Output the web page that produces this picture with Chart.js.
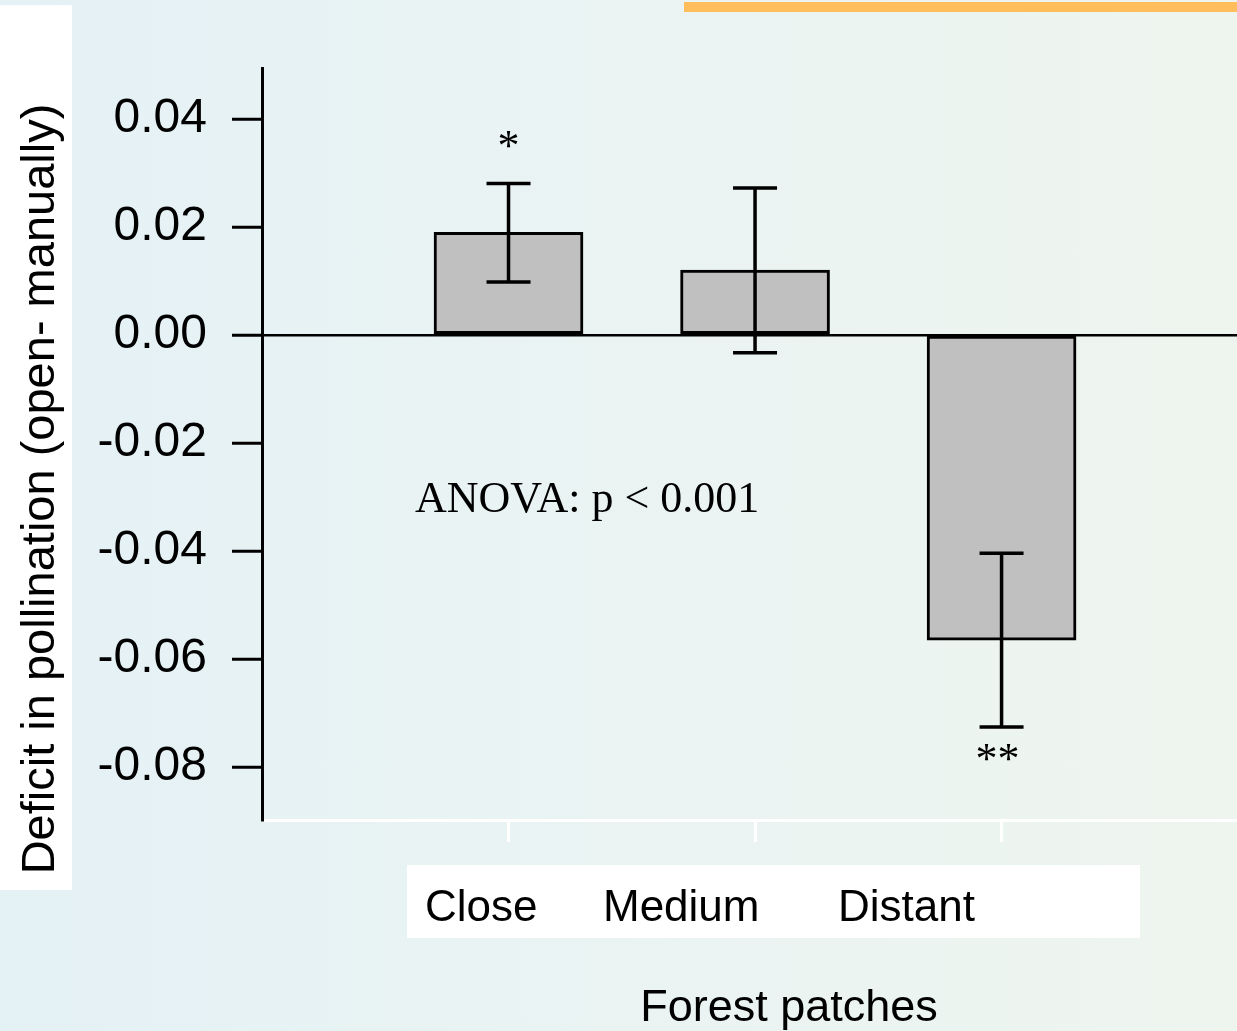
<!DOCTYPE html>
<html>
<head>
<meta charset="utf-8">
<title>Deficit in pollination</title>
<script src="https://cdn.jsdelivr.net/npm/chart.js@4/dist/chart.umd.min.js"></script>
<style>
  html, body { margin: 0; padding: 0; }
  body {
    width: 1237px;
    height: 1031px;
    overflow: hidden;
    background: linear-gradient(90deg, #e4f1f5 0%, #e9f3f3 40%, #eef5ef 100%);
  }
  canvas { display: block; }
</style>
</head>
<body>
<canvas id="chart" width="1237" height="1031"></canvas>
<script>
// ===============================
// DATA
// ===============================
const categories = ["Close", "Medium", "Distant"];
const deficit = [0.019, 0.012, -0.0565];
const errHigh = [0.028, 0.0272, -0.0404];
const errLow = [0.0098, -0.0033, -0.0726];
const stars = ["*", "", "**"];
const yTicks = [0.04, 0.02, 0.0, -0.02, -0.04, -0.06, -0.08];
const yTitle = "Deficit in pollination (open- manually)";
const xTitle = "Forest patches";
const anovaText = "ANOVA: p < 0.001";

// ===============================
// PLUGINS
// ===============================
const backdrop = {
  id: "backdrop",
  beforeDraw(chart) {
    const ctx = chart.ctx;
    ctx.save();
    ctx.fillStyle = "#ffbd5c";
    ctx.fillRect(684, 2, 553, 10);
    ctx.fillStyle = "#ffffff";
    ctx.fillRect(0, 5, 72, 885);
    ctx.fillRect(407, 865, 733, 73);
    ctx.restore();
  },
};

const errorBars = {
  id: "errorBars",
  afterDatasetsDraw(chart) {
    const ctx = chart.ctx;
    const x = chart.scales.x;
    const y = chart.scales.y;
    ctx.save();
    ctx.strokeStyle = "#000";
    ctx.lineWidth = 3.5;
    categories.forEach((c, i) => {
      const px = x.getPixelForValue(i + 1);
      const hi = y.getPixelForValue(errHigh[i]);
      const lo = y.getPixelForValue(errLow[i]);
      ctx.beginPath();
      ctx.moveTo(px, hi);
      ctx.lineTo(px, lo);
      ctx.moveTo(px - 22, hi);
      ctx.lineTo(px + 22, hi);
      ctx.moveTo(px - 22, lo);
      ctx.lineTo(px + 22, lo);
      ctx.stroke();
    });
    ctx.restore();
  },
};

const labels = {
  id: "labels",
  afterDraw(chart) {
    const ctx = chart.ctx;
    const x = chart.scales.x;
    const y = chart.scales.y;
    ctx.save();
    ctx.fillStyle = "#000";

    // significance stars
    ctx.font = "44px 'Liberation Serif', 'Times New Roman', serif";
    ctx.textAlign = "center";
    ctx.textBaseline = "middle";
    stars.forEach((s, i) => {
      if (!s) return;
      const px = x.getPixelForValue(i + 1);
      const py = deficit[i] >= 0
        ? y.getPixelForValue(errHigh[i]) - 35
        : y.getPixelForValue(errLow[i]) + 34;
      ctx.fillText(s, px - (s.length > 1 ? 4 : 0), py);
    });

    // anova note
    ctx.font = "44px 'Liberation Serif', 'Times New Roman', serif";
    ctx.textAlign = "left";
    ctx.textBaseline = "alphabetic";
    ctx.fillText(anovaText, 415, 512);

    // category labels in the white box
    ctx.font = "44px 'Liberation Sans', Arial, sans-serif";
    const catX = [425, 603, 838];
    categories.forEach((c, i) => ctx.fillText(c, catX[i], 921));

    // x title
    ctx.font = "45px 'Liberation Sans', Arial, sans-serif";
    ctx.textAlign = "center";
    ctx.fillText(xTitle, 789, 1021);

    // y title
    ctx.translate(54, 489);
    ctx.rotate(-Math.PI / 2);
    ctx.font = "47px 'Liberation Sans', Arial, sans-serif";
    ctx.textAlign = "center";
    ctx.fillText(yTitle, 0, 0);
    ctx.restore();
  },
};

// ===============================
// CHART
// ===============================
new Chart(document.getElementById("chart"), {
  type: "bar",
  data: {
    datasets: [
      {
        data: categories.map((c, i) => ({ x: i + 1, y: deficit[i] })),
        backgroundColor: "#c0c0c0",
        borderColor: "#000",
        borderWidth: 3,
        borderSkipped: false,
        barThickness: 149,
      },
    ],
  },
  options: {
    responsive: false,
    animation: false,
    layout: { padding: { top: 68, right: 0, left: 0, bottom: 0 } },
    plugins: {
      legend: { display: false },
      tooltip: { enabled: false },
    },
    scales: {
      x: {
        type: "linear",
        offset: false,
        min: 0,
        max: 3.955,
        afterBuildTicks: (s) => {
          s.ticks = categories.map((c, i) => ({ value: i + 1 }));
        },
        afterFit: (s) => {
          s.height = 211;
        },
        ticks: { display: false },
        grid: {
          offset: false,
          drawOnChartArea: false,
          tickLength: 22,
          tickColor: "#ffffff",
          tickWidth: 3,
        },
        border: { color: "#ffffff", width: 3 },
      },
      y: {
        min: -0.0898,
        max: 0.0494,
        afterBuildTicks: (s) => {
          s.ticks = yTicks.map((v) => ({ value: v }));
        },
        afterFit: (s) => {
          s.width = 262;
        },
        ticks: {
          color: "#000",
          padding: 25,
          font: { family: "'Liberation Sans', Arial, sans-serif", size: 48 },
          callback: (v) => Number(v).toFixed(2),
        },
        grid: {
          color: (ctx) => (ctx.tick && ctx.tick.value === 0 ? "#000" : "rgba(0,0,0,0)"),
          lineWidth: 2.5,
          tickLength: 30,
          tickColor: "#000",
          tickWidth: 3,
        },
        border: { color: "#000", width: 3 },
      },
    },
  },
  plugins: [backdrop, errorBars, labels],
});
</script>
</body>
</html>
